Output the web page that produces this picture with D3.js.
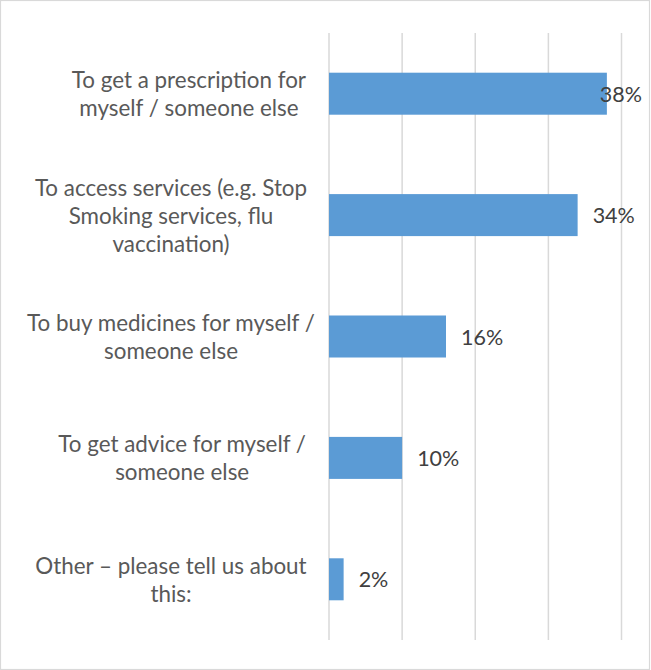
<!DOCTYPE html>
<html>
<head>
<meta charset="utf-8">
<script src="https://cdn.jsdelivr.net/npm/d3@7"></script>
<style>
  html, body { margin: 0; padding: 0; background: #fff; }
  svg { display: block; }
</style>
</head>
<body>
<svg id="chart" width="651" height="670"></svg>
<script>
// ---- data ----
const categories = [
  "To get a prescription for myself / someone else",
  "To access services (e.g. Stop Smoking services, flu vaccination)",
  "To buy medicines for myself / someone else",
  "To get advice for myself / someone else",
  "Other – please tell us about this:"
];
const categoryLines = [
  ["To get a prescription for", "myself / someone else"],
  ["To access services (e.g. Stop", "Smoking services, flu", "vaccination)"],
  ["To buy medicines for myself /", "someone else"],
  ["To get advice for myself /", "someone else"],
  ["Other – please tell us about", "this:"]
];
const values = [0.38, 0.34, 0.16, 0.10, 0.02];
const valueLabels = ["38%", "34%", "16%", "10%", "2%"];
const gridTicks = [0, 0.1, 0.2, 0.3, 0.4];

// ---- layout ----
const W = 651, H = 670;
const plot = { left: 329, right: 621.5, top: 33, bottom: 640 };
const FONT = "Lato, 'Open Sans', sans-serif";
const FS = 22.4;
const VFS = 21.5;
const textColor = "#595959";
const gridColor = "#d9d9d9";
const barColor = "#5b9bd5";
const lineH = 28;

const svg = d3.select("#chart");

// outer border
svg.append("rect")
  .attr("x", 0.5).attr("y", 0.5)
  .attr("width", W - 2).attr("height", H - 1)
  .attr("fill", "#fff").attr("stroke", gridColor).attr("stroke-width", 1.2);

const x = d3.scaleLinear().domain([0, 0.4]).range([plot.left, plot.right]);
const y = d3.scaleBand().domain(categories).range([plot.top, plot.bottom])
  .paddingInner(0.654).paddingOuter(0.327);

// gridlines
svg.append("g").selectAll("line").data(gridTicks).join("line")
  .attr("x1", d => x(d)).attr("x2", d => x(d))
  .attr("y1", plot.top).attr("y2", plot.bottom)
  .attr("stroke", gridColor).attr("stroke-width", 1.5);

// bars
svg.append("g").selectAll("rect").data(values).join("rect")
  .attr("x", x(0))
  .attr("y", (d, i) => y(categories[i]))
  .attr("width", d => x(d) - x(0))
  .attr("height", y.bandwidth())
  .attr("fill", barColor);

// category labels (wrapped, centered within a block right-aligned to the label area)
const areaLeft = 36, areaRight = 306;
const labG = svg.append("g")
  .attr("font-family", FONT).attr("font-size", FS).attr("fill", textColor);
categoryLines.forEach((lines, i) => {
  const cy = y(categories[i]) + y.bandwidth() / 2;
  const g = labG.append("g");
  const texts = lines.map((ln, j) => g.append("text")
    .attr("text-anchor", "middle")
    .attr("dominant-baseline", "central")
    .attr("y", cy + (j - (lines.length - 1) / 2) * lineH)
    .text(ln));
  const wMax = d3.max(texts, t => t.node().getComputedTextLength());
  const areaW = areaRight - areaLeft;
  const cx = wMax <= areaW ? areaRight - wMax / 2 : (areaLeft + areaRight) / 2;
  texts.forEach(t => t.attr("x", cx));
});

// value labels
const valG = svg.append("g")
  .attr("font-family", FONT).attr("font-size", VFS).attr("fill", "#404040");
values.forEach((v, i) => {
  const t = valG.append("text")
    .attr("dominant-baseline", "central")
    .attr("y", y(categories[i]) + y.bandwidth() / 2)
    .text(valueLabels[i]);
  const tw = t.node().getComputedTextLength();
  t.attr("x", Math.min(x(v) + 15, 642 - tw));
});
</script>
</body>
</html>
